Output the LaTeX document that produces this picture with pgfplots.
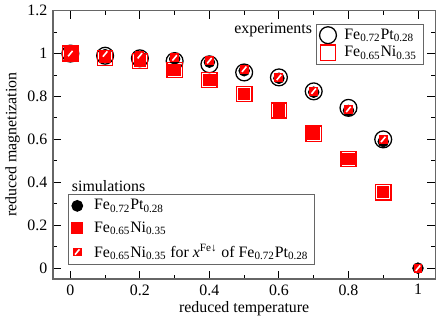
\documentclass[border=0pt]{standalone}
\usepackage{pgfplots}
\pgfplotsset{compat=1.18}
\usepackage{fontspec}
\setmainfont{Liberation Serif}
\pgfdeclareplotmark{hsq}{%
  \pgfpathrectangle{\pgfqpoint{-\pgfplotmarksize}{-\pgfplotmarksize}}{\pgfqpoint{2\pgfplotmarksize}{2\pgfplotmarksize}}%
  \pgfsetfillcolor{red}%
  \pgfusepathqfill
  \pgfsetstrokecolor{white}%
  \pgfsetlinewidth{1.0pt}%
  \pgfpathmoveto{\pgfqpoint{-0.5\pgfplotmarksize}{-0.6\pgfplotmarksize}}%
  \pgfpathlineto{\pgfqpoint{0.5\pgfplotmarksize}{0.6\pgfplotmarksize}}%
  \pgfusepathqstroke
}
\pgfplotsset{
  common/.style={
    width=240.6pt, height=168.75pt, scale only axis,
    xmin=-0.05, xmax=1.05, ymin=-0.05, ymax=1.2,
  },
}
\begin{document}
\begin{tikzpicture}
\begin{axis}[common,
  xtick={0,0.2,0.4,0.6,0.8,1},
  minor xtick={0.1,0.3,0.5,0.7,0.9},
  ytick={0,0.2,0.4,0.6,0.8,1,1.2},
  minor ytick={0.1,0.3,0.5,0.7,0.9,1.1},
  major tick length=5pt, minor tick length=2.5pt,
  every tick/.style={black, line width=0.6pt},
  axis line style={black!60, line width=0.8pt},
  /pgf/number format/assume math mode=true,
  xlabel={reduced temperature}, ylabel={reduced magnetization},
  xlabel style={yshift=3pt}, ylabel style={yshift=-2pt},
  legend style={at={(0.969,0.952)}, anchor=north east, draw=black!60, line width=0.6pt,
    inner xsep=2pt, inner ysep=1pt, row sep=-1pt, nodes={inner sep=2pt},
    /tikz/every odd column/.append style={column sep=3pt}},
  legend cell align=left,
  clip=false,
]
\addplot[only marks, mark=o, mark size=5.3pt, mark options={black, line width=0.8pt}]
 coordinates {(0,1)(0.1,0.99)(0.2,0.978)(0.3,0.965)(0.4,0.95)(0.5,0.912)(0.6,0.889)(0.7,0.824)(0.8,0.747)(0.9,0.6)};
\addlegendentry{Fe\textsubscript{0.72}Pt\textsubscript{0.28}}
\addplot[only marks, mark=square, mark size=4.8pt, mark options={red, line width=0.9pt}]
 coordinates {(0,1)(0.1,0.98)(0.2,0.966)(0.3,0.923)(0.4,0.877)(0.5,0.812)(0.6,0.735)(0.7,0.627)(0.8,0.508)(0.9,0.354)};
\addlegendentry{Fe\textsubscript{0.65}Ni\textsubscript{0.35}}
\node[anchor=east] at (rel axis cs:0.692,0.93) {experiments};
\node[anchor=west] at (rel axis cs:0.035,0.345) {simulations};
\end{axis}
\begin{axis}[common, hide axis,
  legend style={at={(0.039,0.052)}, anchor=south west, draw=black!60, line width=0.6pt,
    inner xsep=2pt, inner ysep=1pt, row sep=2pt, nodes={inner sep=2pt},
    /tikz/every odd column/.append style={column sep=5pt}},
  legend cell align=left,
]
\addplot[only marks, mark=*, mark size=3.4pt, mark options={black, fill=black}]
 coordinates {(0,1)(0.1,0.995)(0.2,0.985)(0.3,0.975)(0.4,0.96)(0.5,0.92)(0.6,0.885)(0.7,0.82)(0.8,0.735)(0.9,0.59)(1,0)};
\addlegendentry{Fe\textsubscript{0.72}Pt\textsubscript{0.28}}
\addplot[only marks, mark=square*, mark size=3.6pt, mark options={red, fill=red, line width=0pt}]
 coordinates {(0,1)(0.1,0.985)(0.2,0.968)(0.3,0.923)(0.4,0.877)(0.5,0.812)(0.6,0.735)(0.7,0.627)(0.8,0.508)(0.9,0.354)};
\addlegendentry{Fe\textsubscript{0.65}Ni\textsubscript{0.35}}
\addplot[only marks, mark=hsq, mark size=2.8pt]
 coordinates {(0,1)(0.1,0.998)(0.2,0.99)(0.3,0.98)(0.4,0.967)(0.5,0.927)(0.6,0.889)(0.7,0.825)(0.8,0.74)(0.9,0.6)(1,0)};
\addlegendentry{Fe\textsubscript{0.65}Ni\textsubscript{0.35} for \textit{x}\textsuperscript{Fe↓} of Fe\textsubscript{0.72}Pt\textsubscript{0.28}}
\end{axis}
\end{tikzpicture}
\end{document}
